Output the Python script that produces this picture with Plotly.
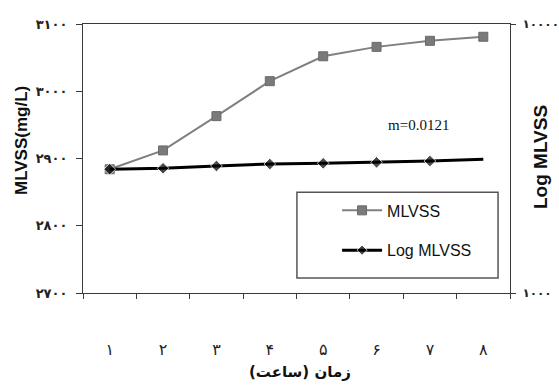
import plotly.graph_objects as go

# ---- data ----
hours = ["۱", "۲", "۳", "۴", "۵", "۶", "۷", "۸"]
mlvss = [2884, 2912, 2963, 3015, 3052, 3066, 3075, 3081]
log_mlvss = [2884, 2908, 2966, 3016, 3035, 3061, 3095, 3141]
left_tickvals = [2700, 2800, 2900, 3000, 3100]
left_ticktext = ["۲۷۰۰", "۲۸۰۰", "۲۹۰۰", "۳۰۰۰", "۳۱۰۰"]
right_tickvals = [1000, 10000]
right_ticktext = ["۱۰۰۰", "۱۰۰۰۰"]
slope_label = "m=0.0121"

# styles
log_marker_sizes = [9, 9, 9, 9, 9, 9, 9, 0]
axis_col = "#3a3a3a"
fa_font = "DejaVu Sans, Liberation Sans, sans-serif"

fig = go.Figure()
fig.add_trace(go.Scatter(
    x=hours, y=mlvss, name="MLVSS", mode="lines+markers",
    line=dict(color="#808080", width=2),
    marker=dict(symbol="square", size=9, color="#7a7a7a",
                line=dict(color="#6a6a6a", width=1)),
    legendgroup="a", yaxis="y"))
fig.add_trace(go.Scatter(
    x=hours, y=log_mlvss, name="Log MLVSS", mode="lines+markers",
    line=dict(color="#000000", width=3),
    marker=dict(symbol="diamond", size=log_marker_sizes, color="#000000"),
    legendgroup="b", yaxis="y2"))

fig.update_layout(
    width=559, height=387,
    margin=dict(l=83, r=49, t=24, b=94, autoexpand=False),
    paper_bgcolor="white", plot_bgcolor="white",
    showlegend=True,
    legend=dict(x=0.595, y=0.37, xanchor="left", yanchor="top",
                bgcolor="rgba(0,0,0,0)", borderwidth=0,
                traceorder="grouped", tracegroupgap=16,
                itemwidth=40,
                font=dict(family="Liberation Sans, Arial", size=16, color="#111")),
    xaxis=dict(type="category", range=[-0.5, 7.5], tickson="boundaries",
               ticks="outside", ticklen=5, tickcolor=axis_col,
               showline=True, linecolor=axis_col, linewidth=1, mirror=True,
               showgrid=False, zeroline=False, automargin=False,
               ticklabelstandoff=42,
               tickfont=dict(family=fa_font, size=16, color="#222")),
    yaxis=dict(range=[2700, 3100], tickvals=left_tickvals,
               ticktext=["<b>%s</b>" % t for t in left_ticktext],
               ticks="outside", ticklen=6, tickcolor=axis_col,
               showline=True, linecolor=axis_col, linewidth=1,
               showgrid=False, zeroline=False, automargin=False,
               ticklabelstandoff=6,
               tickfont=dict(family=fa_font, size=13, color="#222")),
    yaxis2=dict(type="log", range=[3, 4], overlaying="y", side="right",
                tickvals=right_tickvals,
                ticktext=["<b>%s</b>" % t for t in right_ticktext],
                ticks="outside", ticklen=5, tickcolor=axis_col,
                showline=True, linecolor=axis_col, linewidth=1,
                showgrid=False, zeroline=False, automargin=False,
                ticklabelstandoff=4,
                tickfont=dict(family=fa_font, size=12, color="#222")),
    shapes=[dict(type="rect", xref="paper", yref="paper",
                 x0=0.501, x1=0.972, y0=0.056, y1=0.375,
                 line=dict(color="#555555", width=1.5), fillcolor="rgba(0,0,0,0)")],
    annotations=[
        dict(text=slope_label, xref="paper", yref="paper",
             x=(418 - 83) / 427, y=(293 - 125) / 269, xanchor="center", yanchor="middle",
             showarrow=False, font=dict(family="Liberation Serif, Times New Roman", size=15, color="#111")),
        dict(text="<b>MLVSS(mg/L)</b>", xref="paper", yref="paper",
             x=(21 - 83) / 427, y=(293 - 141) / 269, xanchor="center", yanchor="middle",
             textangle=-90, showarrow=False,
             font=dict(family="Liberation Sans, Arial", size=17, color="#111")),
        dict(text="<b>Log MLVSS</b>", xref="paper", yref="paper",
             x=(540 - 83) / 427, y=(293 - 157) / 269, xanchor="center", yanchor="middle",
             textangle=-90, showarrow=False,
             font=dict(family="Liberation Sans, Arial", size=19, color="#111")),
        dict(text="<b>زمان (ساعت)</b>", xref="paper", yref="paper",
             x=(300 - 83) / 427, y=(293 - 372) / 269, xanchor="center", yanchor="middle",
             showarrow=False,
             font=dict(family=fa_font, size=15, color="#111")),
    ],
)

fig.write_html("out.html")
